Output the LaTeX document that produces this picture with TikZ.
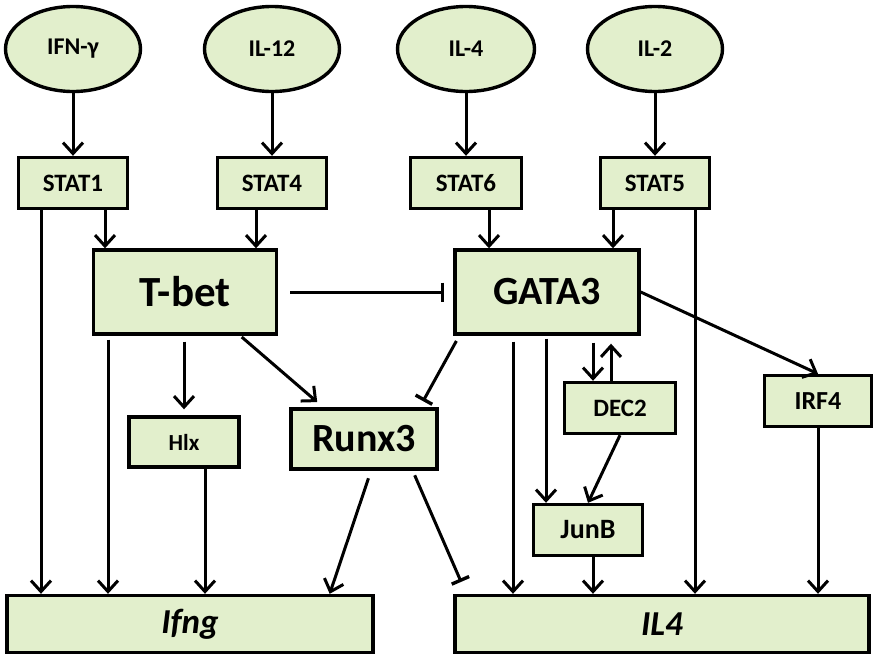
\documentclass[tikz,border=0pt]{standalone}
\usepackage{fontspec}
\setmainfont{Carlito}
\usetikzlibrary{shapes.geometric,arrows.meta}
\definecolor{leaf}{RGB}{226,239,204}
\begin{document}
\begin{tikzpicture}[x=1pt,y=-1pt]
    \tikzset{cyto/.style = {shape=ellipse,draw,line width=3.4pt,fill=leaf,inner sep=0pt,minimum width=135pt,minimum height=85pt,font=\fontsize{24}{28}\selectfont\bfseries}}
    \tikzset{small/.style = {shape=rectangle,draw,line width=3.4pt,fill=leaf,inner sep=0pt,minimum width=109pt,minimum height=51pt,font=\fontsize{25}{29}\selectfont\bfseries}}
    \tikzset{big/.style = {small,minimum width=184pt,minimum height=84pt,font=\fontsize{40}{46}\selectfont\bfseries}}
    \tikzset{gene/.style = {small,minimum height=57pt,font=\fontsize{35}{40}\selectfont\bfseries\itshape}}
    \tikzset{edge/.style = {line width=3pt,-{Straight Barb[length=11pt,width=20pt,line width=3pt]}}}
    \tikzset{block/.style = {line width=3pt,-{Bar[width=19pt,line width=3.4pt]}}}
    \useasboundingbox (0,0) rectangle (873,656);
    % cytokines on top
    \node[cyto] (ifn) at (73,49) {IFN-γ};
    \node[cyto] (il12) at (272,49) {IL-12};
    \node[cyto,minimum width=137pt] (il4c) at (466,49) {IL-4};
    \node[cyto] (il2) at (655,49) {IL-2};
    % STAT row
    \node[small] (stat1) at (73,183) {STAT1};
    \node[small] (stat4) at (272,183) {STAT4};
    \node[small,minimum width=111pt] (stat6) at (466,183) {STAT6};
    \node[small] (stat5) at (655,183) {STAT5};
    % master regulators
    \node[big,minimum width=183pt,font=\fontsize{43}{48}\selectfont\bfseries] (tbet) at (185,292) {T-bet};
    \node[big] (gata3) at (547,292) {GATA3};
    % middle factors
    \node[small,minimum width=110pt,minimum height=50pt,font=\fontsize{23}{26}\selectfont\bfseries] (hlx) at (184,442) {Hlx};
    \node[big,minimum width=146pt,minimum height=60pt] (runx3) at (364,439) {Runx3};
    \node[small,minimum width=111pt] (dec2) at (620,408) {DEC2};
    \node[small,minimum width=107pt,font=\fontsize{26}{30}\selectfont\bfseries] (irf4) at (818,401) {IRF4};
    \node[small,font=\fontsize{28}{32}\selectfont\bfseries] (junb) at (588,530) {JunB};
    % target genes
    \node[gene,minimum width=366pt] (ifng) at (190,624) {Ifng};
    \node[gene,minimum width=414pt] (il4) at (662,624) {IL4};
    % cytokine to STAT
    \draw[edge] (ifn) -- (stat1);
    \draw[edge] (il12) -- (stat4);
    \draw[edge] (il4c) -- (stat6);
    \draw[edge] (il2) -- (stat5);
    % STAT to master regulators
    \draw[edge] ([xshift=32pt]stat1.south) -- ([xshift=32pt]stat1.south |- tbet.north);
    \draw[edge] ([xshift=-16pt]stat4.south) -- ([xshift=-16pt]stat4.south |- tbet.north);
    \draw[edge] ([xshift=23pt]stat6.south) -- ([xshift=23pt]stat6.south |- gata3.north);
    \draw[edge] ([xshift=-42pt]stat5.south) -- ([xshift=-42pt]stat5.south |- gata3.north);
    \draw[edge] ([xshift=-32pt]stat1.south) -- ([xshift=-32pt]stat1.south |- ifng.north);
    \draw[edge] ([xshift=40pt]stat5.south) -- ([xshift=40pt]stat5.south |- il4.north);
    % T-bet side
    \draw[block,shorten >=9pt] ([xshift=12pt]tbet.east) -- (gata3.west);
    \draw[edge,shorten <=4pt] ([xshift=-77pt]tbet.south) -- ([xshift=-77pt]tbet.south |- ifng.north);
    \draw[edge,shorten <=6pt,shorten >=6pt] (tbet.south -| hlx.north) -- (hlx.north);
    \draw[edge] ([xshift=21pt]hlx.south) -- ([xshift=21pt]hlx.south |- ifng.north);
    \draw[edge,shorten <=2pt,shorten >=8pt] ([xshift=-38pt]tbet.south east) -- ([xshift=34pt]runx3.north west);
    \draw[block,shorten <=6pt,shorten >=7pt] ([xshift=6pt]gata3.south west) -- ([xshift=-19pt]runx3.north east);
    \draw[edge,shorten <=8pt] ([xshift=7pt]runx3.south) -- ([xshift=-45pt]ifng.north east);
    \draw[block,shorten <=5pt,shorten >=13pt] ([xshift=-26pt]runx3.south east) -- ([xshift=13pt]il4.north west);
    % GATA3 side
    \draw[edge,shorten <=6pt] ([xshift=-34pt]gata3.south) -- ([xshift=-34pt]gata3.south |- il4.north);
    \draw[edge,shorten <=3pt] ([xshift=-1pt]gata3.south) -- ([xshift=-1pt]gata3.south |- junb.north);
    \draw[edge,shorten <=7pt] ([xshift=-27pt]dec2.north |- gata3.south) -- ([xshift=-27pt]dec2.north);
    \draw[edge,shorten >=8pt] ([xshift=-9pt]dec2.north) -- ([xshift=-9pt]dec2.north |- gata3.south);
    \draw[edge] (dec2.south) -- (junb.north);
    \draw[edge] ([xshift=5pt]junb.south) -- ([xshift=5pt]junb.south |- il4.north);
    \draw[edge] (gata3.east) -- (irf4.north);
    \draw[edge] (irf4.south) -- (irf4.south |- il4.north);
\end{tikzpicture}
\end{document}
